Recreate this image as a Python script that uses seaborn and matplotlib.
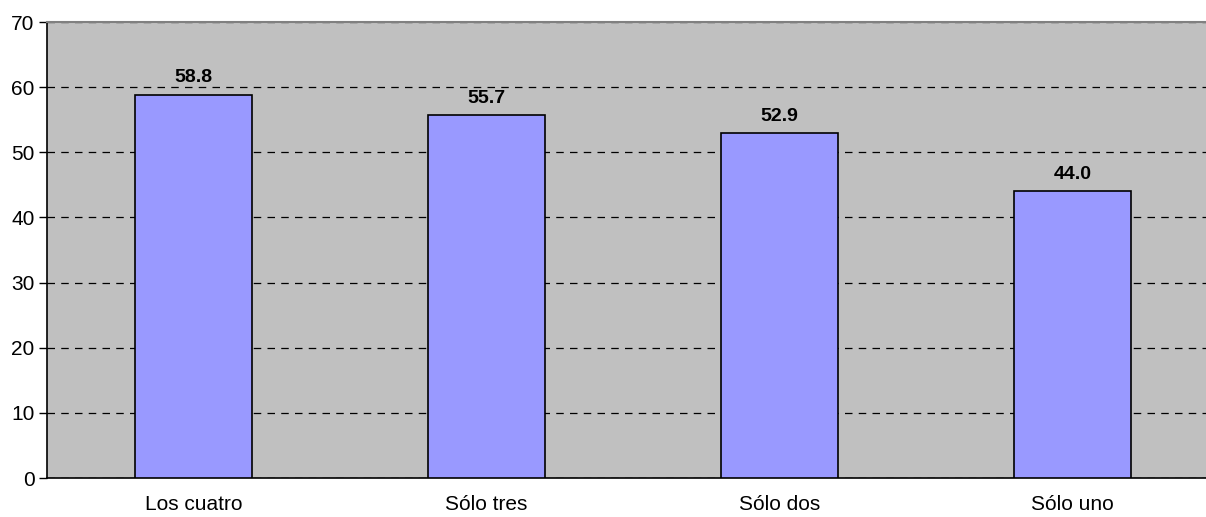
# Bar chart - combinaciones
import matplotlib
matplotlib.use("Agg")
import matplotlib.pyplot as plt
import seaborn as sns
import pandas as pd

categorias = ["Los cuatro", "Sólo tres", "Sólo dos", "Sólo uno"]
valores = [58.8, 55.7, 52.9, 44.0]
yticks = [0, 10, 20, 30, 40, 50, 60, 70]

df = pd.DataFrame({"cat": categorias, "val": valores})

sns.set_style("white")
plt.rcParams['font.family'] = ['Liberation Sans', 'DejaVu Sans']
plt.rcParams['text.color'] = 'black'
plt.rcParams['xtick.color'] = 'black'
plt.rcParams['ytick.color'] = 'black'

fig = plt.figure(figsize=(12.06, 5.17), dpi=100)
ax = fig.add_axes([47 / 1206, 39 / 517, 1172 / 1206, 456 / 517])
ax.set_facecolor('#C0C0C0')

sns.barplot(data=df, x="cat", y="val", color='#9999FF', saturation=1,
            width=0.4, edgecolor='black', linewidth=1.2, ax=ax, zorder=3)

# Value labels
for i, v in enumerate(valores):
    ax.text(i, v + 1.3, f"{v:.1f}", ha='center', va='bottom',
            fontsize=14, fontweight='bold', color='black', zorder=4)

ax.set_ylim(0, 70)
ax.set_xlim(-0.5, 3.5)
ax.set_yticks(yticks)
ax.yaxis.grid(True, linestyle=(0, (6, 5)), color='black', linewidth=0.9, zorder=1)
ax.set_axisbelow(True)

# Category boundary ticks
ax.set_xticks([0.5, 1.5, 2.5], minor=True)
ax.tick_params(axis='x', which='major', length=0, pad=12, labelsize=15, labelcolor='black')
ax.tick_params(axis='x', which='minor', length=6, width=1, color='#333333', direction='out')
ax.tick_params(axis='y', length=6, width=1, direction='out', labelsize=15, pad=3,
               left=True, labelcolor='black')

ax.set_xlabel("")
ax.set_ylabel("")

for s in ['left', 'bottom']:
    ax.spines[s].set_color('black')
    ax.spines[s].set_linewidth(1.2)
ax.spines['top'].set_color('#808080')
ax.spines['top'].set_linewidth(1.5)
ax.spines['right'].set_visible(False)

fig.savefig("out.png", dpi=100)
